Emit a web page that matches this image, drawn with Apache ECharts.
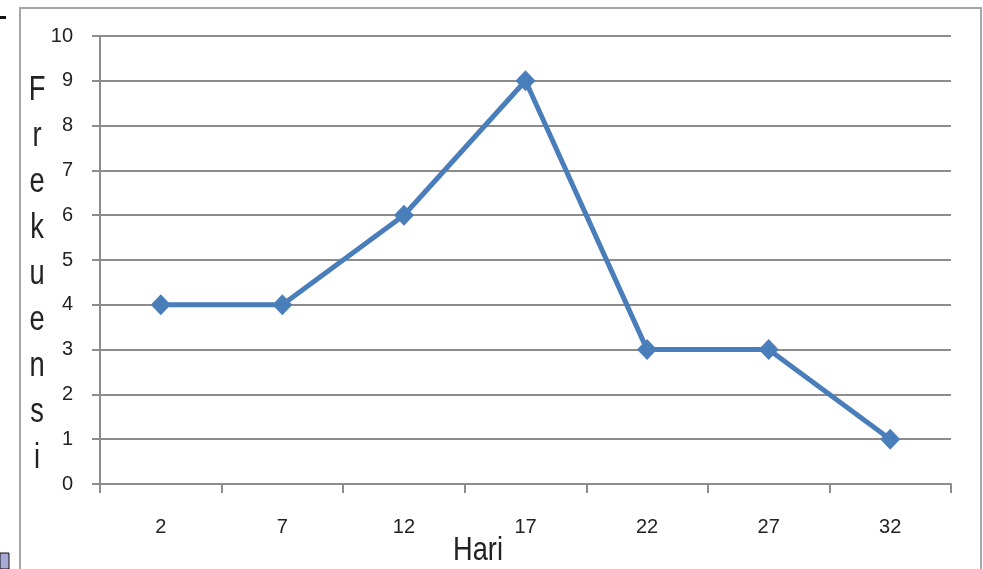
<!DOCTYPE html>
<html>
<head>
<meta charset="utf-8">
<script src="https://cdn.jsdelivr.net/npm/echarts@6/dist/echarts.min.js"></script>
<style>
  html, body { margin: 0; padding: 0; background: #fff; }
  #chart { width: 983px; height: 569px; }
</style>
</head>
<body>
<div id="chart"></div>
<script>
// Frequency per day class
const days = ['2', '7', '12', '17', '22', '27', '32'];
const frequency = [4, 4, 6, 9, 3, 3, 1];
const yTicks = [0, 1, 2, 3, 4, 5, 6, 7, 8, 9, 10];
const yTitleLetters = ['F', 'r', 'e', 'k', 'u', 'e', 'n', 's', 'i'];
const xTitle = 'Hari';

const sans = "'Liberation Sans', Arial, sans-serif";
const tickFont = "'Liberation Sans', 'DejaVu Sans', sans-serif";

const chart = echarts.init(document.getElementById('chart'), null, { renderer: 'canvas' });

// vertical y-axis title, one letter per line, condensed horizontally
const titleLetters = yTitleLetters.map((ch, i) => ({
  type: 'text',
  x: 37,
  y: 90 + i * 46,
  scaleX: 0.78,
  style: {
    text: ch,
    font: '35px ' + sans,
    fill: '#222',
    align: 'center',
    verticalAlign: 'middle'
  }
}));

chart.setOption({
  animation: false,
  backgroundColor: '#fff',
  grid: { left: 100, right: 32, top: 36, bottom: 85, outerBoundsMode: 'none', containLabel: false },
  xAxis: {
    type: 'category',
    data: days,
    boundaryGap: true,
    axisLine: { lineStyle: { color: '#8c8c8c', width: 2 } },
    axisTick: { show: true, length: 9, lineStyle: { color: '#8c8c8c', width: 2 } },
    axisLabel: { margin: 33, fontFamily: tickFont, fontSize: 20, color: '#222' }
  },
  yAxis: {
    type: 'value',
    min: yTicks[0],
    max: yTicks[yTicks.length - 1],
    interval: 1,
    axisLine: { show: true, lineStyle: { color: '#8c8c8c', width: 2 } },
    axisTick: { show: true, length: 8, lineStyle: { color: '#8c8c8c', width: 2 } },
    axisLabel: { margin: 27, fontFamily: tickFont, fontSize: 20, color: '#222' },
    splitLine: { show: true, lineStyle: { color: '#8c8c8c', width: 2 } }
  },
  series: [{
    type: 'line',
    data: frequency,
    symbol: 'diamond',
    symbolSize: [20, 21],
    itemStyle: { color: '#4A7EBB' },
    lineStyle: { color: '#4A7EBB', width: 5 }
  }],
  graphic: [
    {
      type: 'rect',
      shape: { x: 20, y: 8, width: 961, height: 620 },
      style: { fill: null, stroke: '#a6a6a6', lineWidth: 2 },
      silent: true
    },
    {
      type: 'rect',
      shape: { x: 0, y: 16, width: 6, height: 3 },
      style: { fill: '#111' }
    },
    {
      type: 'rect',
      shape: { x: 0, y: 553, width: 9, height: 16 },
      style: { fill: '#a9a9d8', stroke: '#111', lineWidth: 1 }
    },
    {
      type: 'text',
      x: 478,
      y: 551,
      scaleX: 0.8,
      style: {
        text: xTitle,
        font: '34px ' + sans,
        fill: '#222',
        align: 'center',
        verticalAlign: 'middle'
      }
    }
  ].concat(titleLetters)
});
</script>
</body>
</html>
